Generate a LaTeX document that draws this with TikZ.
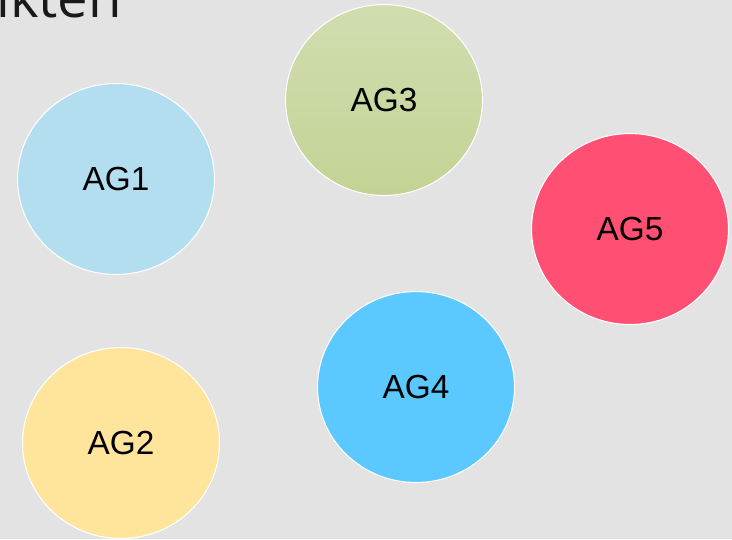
\documentclass[tikz,border=0pt]{standalone}
\usepackage{fontspec}
\setmainfont{Liberation Sans}
\newfontfamily\headfont{Open Sans}
\usepackage{tikz}
\usetikzlibrary{shapes.geometric}
\definecolor{bgrey}{HTML}{E3E3E3}
\definecolor{agblue}{HTML}{B3DEF0}
\definecolor{agyellow}{HTML}{FFE59B}
\definecolor{aggreentop}{HTML}{D1DDB0}
\definecolor{aggreenbot}{HTML}{C3D394}
\definecolor{agcyan}{HTML}{5BC8FF}
\definecolor{agred}{HTML}{FF4F73}

\begin{document}
\begin{tikzpicture}[x=0.02cm,y=-0.02cm]
  \tikzstyle{group}=[ellipse, draw=white, line width=0.6pt, minimum width=3.94cm, minimum height=3.82cm, inner sep=0pt, font=\fontsize{19}{23}\selectfont]
  \fill[bgrey] (0,0) rectangle (732,539);
  \useasboundingbox (0,0) rectangle (732,539);
  \clip (0,0) rectangle (732,539);
  \node[anchor=base west, inner sep=0pt, text=black!90, font=\headfont\fontsize{31}{36}\selectfont] (head) at (-4,17) {ikten};

  \node[group, fill=agblue] (ag1) at (116,179) {AG1};
  \node[group, fill=agyellow] (ag2) at (121,443) {AG2};
  \node[group, top color=aggreentop, bottom color=aggreenbot] (ag3) at (384,100) {AG3};
  \node[group, fill=agcyan] (ag4) at (416,387) {AG4};
  \node[group, fill=agred] (ag5) at (630,229) {AG5};
\end{tikzpicture}
\end{document}
